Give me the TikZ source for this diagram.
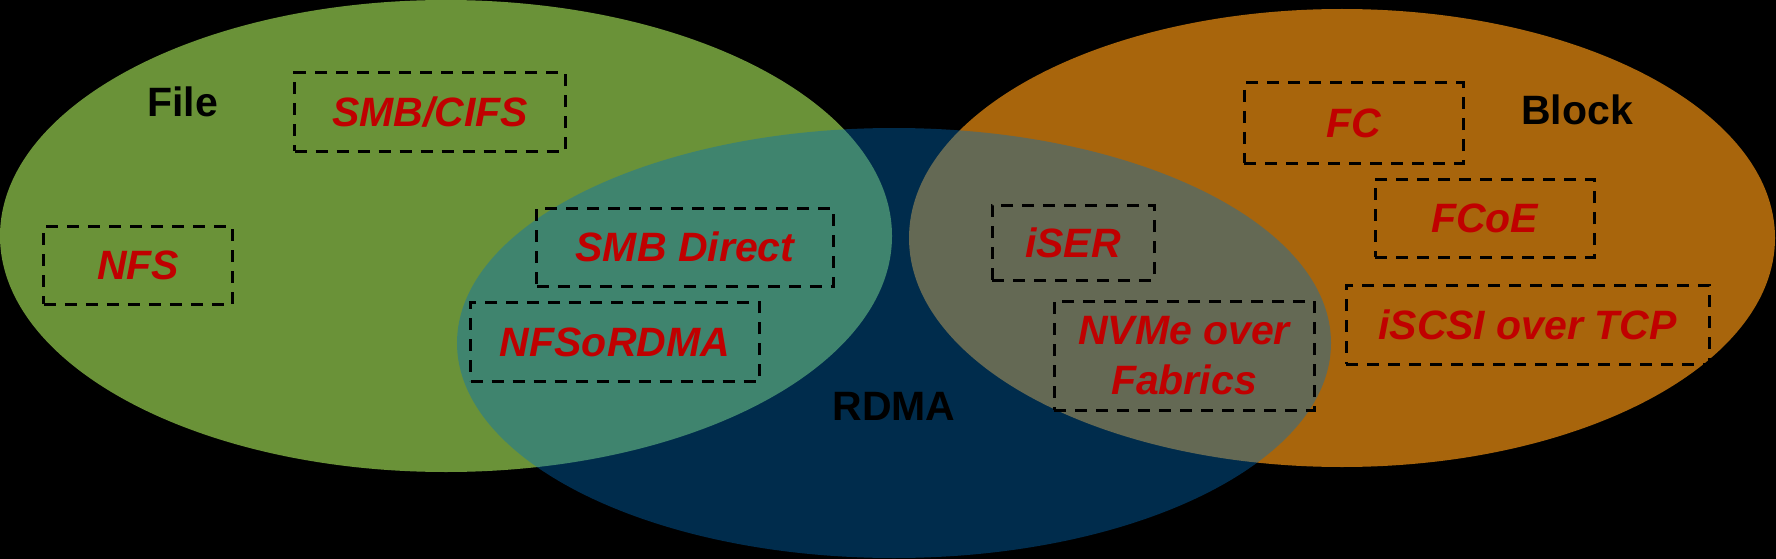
\documentclass[tikz,border=0pt]{standalone}
\usepackage{fontspec}
\setmainfont{Liberation Sans}
\definecolor{filegreen}{RGB}{106,146,56}
\definecolor{blockorange}{RGB}{168,101,12}
\definecolor{rdmablue}{RGB}{0,112,192}
\definecolor{protored}{RGB}{192,0,0}
\tikzset{
  proto/.style={draw=black, line width=3pt, dash pattern=on 12pt off 9pt,
    inner sep=0pt, text=protored, font=\fontsize{41}{50}\selectfont\bfseries\itshape,
    align=center},
  title/.style={inner sep=0pt, text=black, font=\fontsize{41}{50}\selectfont\bfseries}
}
\begin{document}
\begin{tikzpicture}[x=1pt,y=-1pt]
\useasboundingbox (0,0) rectangle (1776,559);
\fill[black] (0,0) rectangle (1776,559);
% sets
\fill[filegreen] (446,236) ellipse [x radius=446pt, y radius=236pt];
\fill[blockorange] (1342,238) ellipse [x radius=433pt, y radius=229pt];
\fill[rdmablue, fill opacity=0.4] (894,343) ellipse [x radius=437pt, y radius=215pt];
% titles
\node[title] (file) at (182.5,102) {File};
\node[title] (block) at (1577,110) {Block};
\node[title] (rdma) at (894,406) {RDMA};
% protocols
\node[proto, minimum width=271pt, minimum height=78.5pt] (smbcifs) at (430,112) {SMB/CIFS};
\node[proto, minimum width=188.5pt, minimum height=78pt] (nfs) at (138,265) {NFS};
\node[proto, minimum width=296.5pt, minimum height=78pt] (smbdirect) at (685,247) {SMB Direct};
\node[proto, minimum width=289pt, minimum height=78.5pt] (nfsordma) at (615,342) {NFSoRDMA};
\node[proto, minimum width=162pt, minimum height=75pt] (iser) at (1073,242.5) {iSER};
\node[proto, minimum width=260pt, minimum height=109pt] (nvme) at (1184,355.5) {NVMe over\\Fabrics};
\node[proto, minimum width=219pt, minimum height=80pt] (fc) at (1353.5,123) {FC};
\node[proto, minimum width=219pt, minimum height=78pt] (fcoe) at (1484.5,218) {FCoE};
\node[proto, minimum width=363pt, minimum height=79pt] (iscsi) at (1527.5,324.5) {iSCSI over TCP};
\end{tikzpicture}
\end{document}
